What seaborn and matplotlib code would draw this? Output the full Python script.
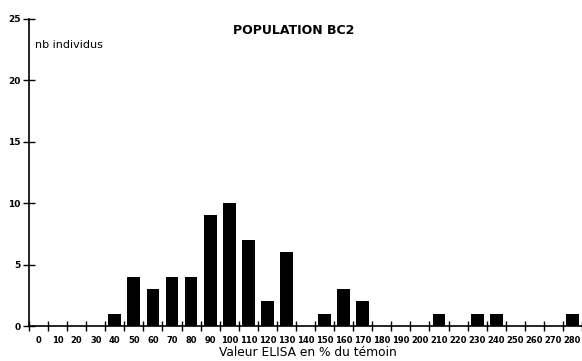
import matplotlib
matplotlib.use("Agg")
import matplotlib.pyplot as plt
import seaborn as sns
import pandas as pd

categories = [str(v) for v in range(0, 290, 10)]
counts = [0, 0, 0, 0, 1, 4, 3, 4, 4, 9, 10, 7, 2, 6, 0, 1, 3, 2, 0, 0, 0, 1, 0, 1, 1, 0, 0, 0, 1]
yticks = [0, 5, 10, 15, 20, 25]

sns.set_style("white")
plt.rcParams['font.family'] = ['DejaVu Sans']
plt.rcParams['text.color'] = 'black'
plt.rcParams['xtick.color'] = 'black'
plt.rcParams['ytick.color'] = 'black'

df = pd.DataFrame({"cat": categories, "n": counts})

fig = plt.figure(figsize=(5.82, 3.61), dpi=100)
ax = fig.add_axes([29/582, 1 - 326/361, 1 - 29/582, (326 - 19)/361])
sns.barplot(data=df, x="cat", y="n", order=categories, color="black",
            width=0.67, saturation=1, ax=ax, edgecolor="black", linewidth=0)

ax.set_xlim(-0.47, 28.2)
ax.set_ylim(0, 25)
ax.set_yticks(yticks)
ax.set_yticklabels([str(t) for t in yticks], fontsize=6.5, fontweight="bold")
ax.set_xticks(range(len(categories)))
ax.set_xticklabels(categories, fontsize=6.0, fontweight="bold")
ax.tick_params(axis="x", which="major", bottom=True, length=0, pad=7)
# boundary ticks
ax.set_xticks([i + 0.5 for i in range(-1, len(categories))], minor=True)
ax.tick_params(axis="x", which="minor", bottom=True, direction="inout", length=7, width=1, color="black")
ax.tick_params(axis="y", left=True, direction="inout", length=8, width=1, color="black", pad=2)

for s in ["top", "right"]:
    ax.spines[s].set_visible(False)
for s in ["left", "bottom"]:
    ax.spines[s].set_color("black")
    ax.spines[s].set_linewidth(1.2)

ax.set_xlabel("")
ax.set_ylabel("")
fig.text(294/582, 1 - 30/361, "POPULATION BC2", ha="center", va="center",
         fontsize=9, fontweight="bold")
fig.text(35/582, 1 - 45/361, "nb individus", ha="left", va="center", fontsize=8)
fig.text(308/582, 1 - 353/361, "Valeur ELISA en % du témoin", ha="center",
         va="center", fontsize=8.8)

fig.savefig("out.png", dpi=100)
